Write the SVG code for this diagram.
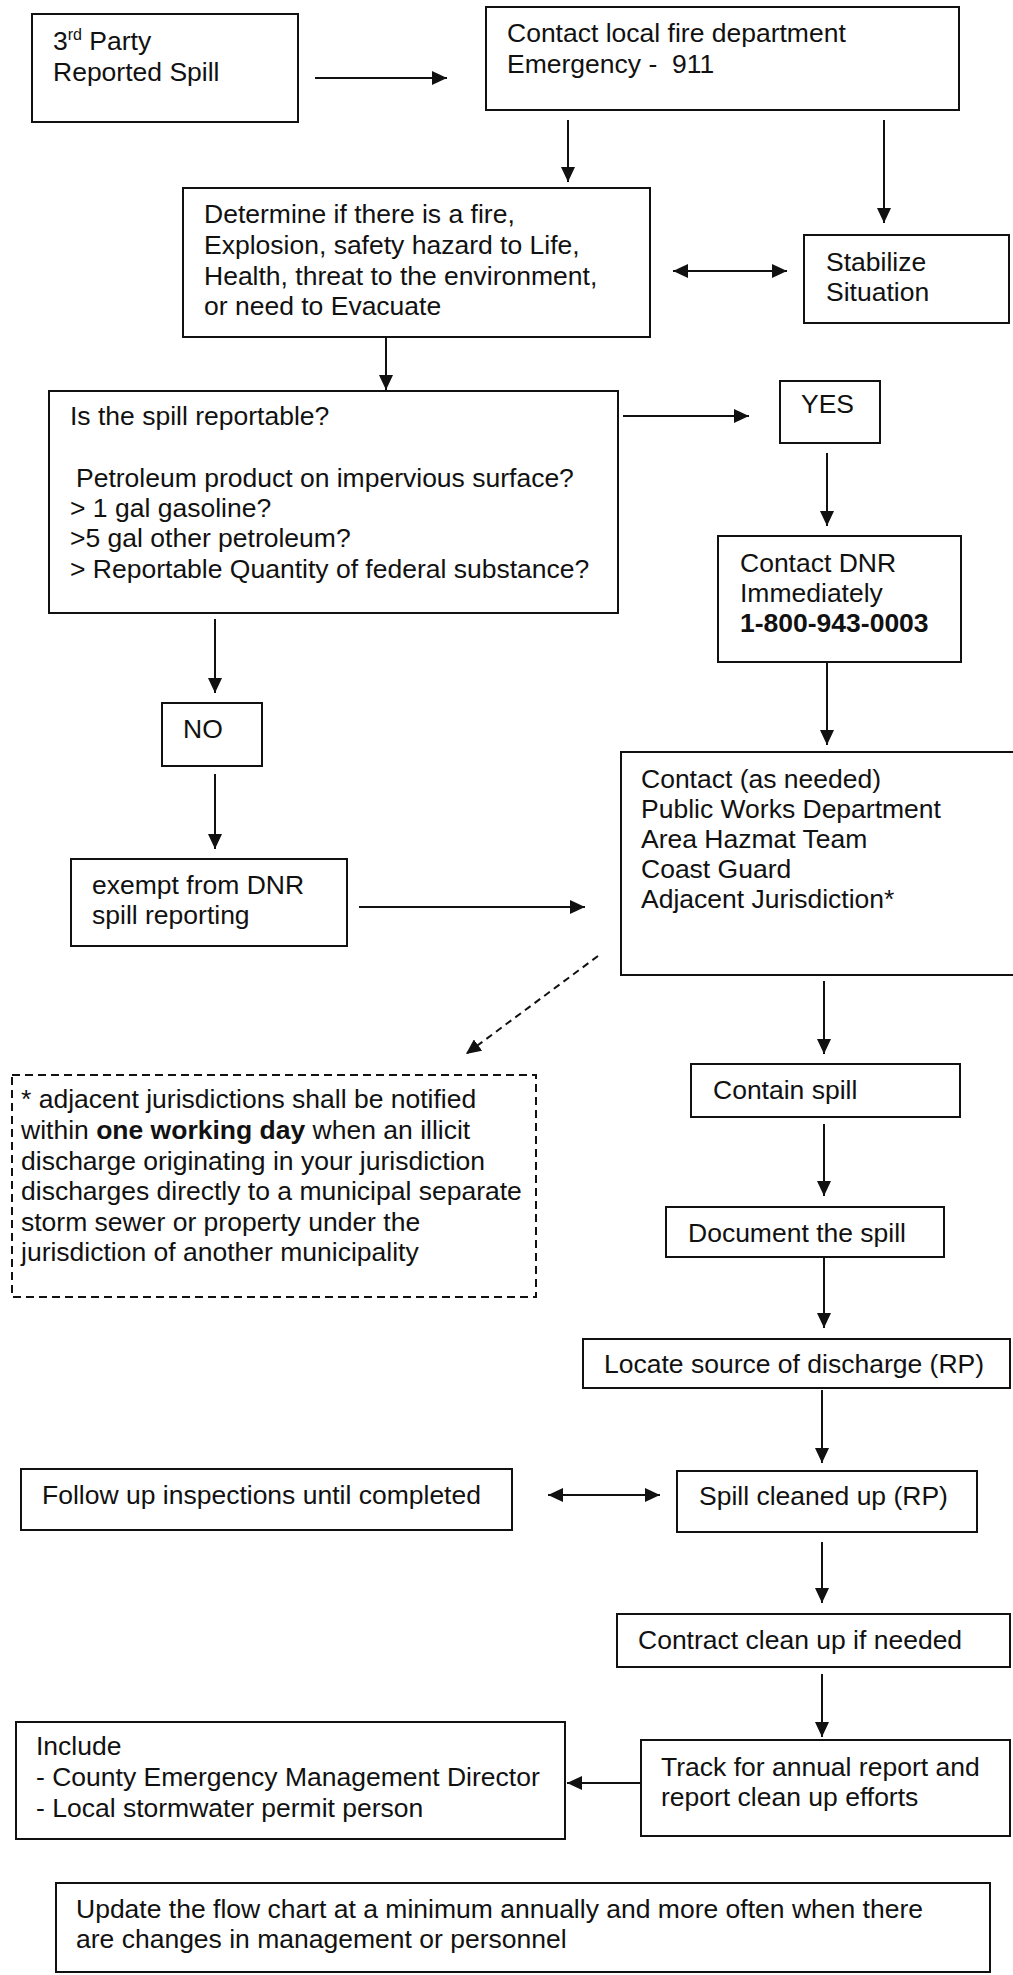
<svg xmlns="http://www.w3.org/2000/svg" width="1013" height="1975" viewBox="0 0 1013 1975">
<style>
.box{fill:#fff;stroke:#111;stroke-width:2}
.dash{fill:#fff;stroke:#111;stroke-width:2;stroke-dasharray:8,5}
text{font-family:"Liberation Sans",Arial,sans-serif;font-size:26.5px;fill:#111;white-space:pre}
.b{font-weight:bold}
.c{stroke:#111;stroke-width:2;fill:none}
.cd{stroke:#111;stroke-width:2;fill:none;stroke-dasharray:7,5}
</style>
<defs>
<marker id="ah" markerUnits="userSpaceOnUse" markerWidth="16" markerHeight="14" refX="15" refY="7" orient="auto-start-reverse">
<path d="M0,0 L15,7 L0,14 z" fill="#111"/>
</marker>
</defs>
<rect width="1013" height="1975" fill="#fff"/>
<g id="n-third-party">
<rect class="box" x="32" y="14" width="266" height="108"/>
<text x="53" y="50">3<tspan font-size="16" dy="-10">rd</tspan><tspan dy="10"> Party</tspan></text>
<text x="53" y="81">Reported Spill</text>
</g>
<g id="n-fire">
<rect class="box" x="486" y="7" width="473" height="103"/>
<text x="507" y="42">Contact local fire department</text>
<text x="507" y="73">Emergency -  911</text>
</g>
<g id="n-determine">
<rect class="box" x="183" y="188" width="467" height="149"/>
<text x="204" y="223">Determine if there is a fire,</text>
<text x="204" y="254">Explosion, safety hazard to Life,</text>
<text x="204" y="285">Health, threat to the environment,</text>
<text x="204" y="315">or need to Evacuate</text>
</g>
<g id="n-stabilize">
<rect class="box" x="804" y="235" width="205" height="88"/>
<text x="826" y="271">Stabilize</text>
<text x="826" y="301">Situation</text>
</g>
<g id="n-reportable">
<rect class="box" x="49" y="391" width="569" height="222"/>
<text x="70" y="425">Is the spill reportable?</text>
<text x="76" y="487">Petroleum product on impervious surface?</text>
<text x="70" y="517">&gt; 1 gal gasoline?</text>
<text x="70" y="547">&gt;5 gal other petroleum?</text>
<text x="70" y="578">&gt; Reportable Quantity of federal substance?</text>
</g>
<g id="n-yes">
<rect class="box" x="780" y="381" width="100" height="62"/>
<text x="801" y="413">YES</text>
</g>
<g id="n-dnr">
<rect class="box" x="718" y="536" width="243" height="126"/>
<text x="740" y="572">Contact DNR</text>
<text x="740" y="602">Immediately</text>
<text class="b" x="740" y="632">1-800-943-0003</text>
</g>
<g id="n-no">
<rect class="box" x="162" y="703" width="100" height="63"/>
<text x="183" y="738">NO</text>
</g>
<g id="n-exempt">
<rect class="box" x="71" y="859" width="276" height="87"/>
<text x="92" y="894">exempt from DNR</text>
<text x="92" y="924">spill reporting</text>
</g>
<g id="n-contact">
<rect class="box" x="621" y="752" width="400" height="223"/>
<text x="641" y="788">Contact (as needed)</text>
<text x="641" y="818">Public Works Department</text>
<text x="641" y="848">Area Hazmat Team</text>
<text x="641" y="878">Coast Guard</text>
<text x="641" y="908">Adjacent Jurisdiction*</text>
</g>
<g id="n-note">
<rect class="dash" x="12" y="1075" width="524" height="222"/>
<text x="21" y="1108">* adjacent jurisdictions shall be notified</text>
<text x="21" y="1139">within <tspan class="b">one working day</tspan> when an illicit</text>
<text x="21" y="1170">discharge originating in your jurisdiction</text>
<text x="21" y="1200">discharges directly to a municipal separate</text>
<text x="21" y="1231">storm sewer or property under the</text>
<text x="21" y="1261">jurisdiction of another municipality</text>
</g>
<g id="n-contain">
<rect class="box" x="691" y="1064" width="269" height="53"/>
<text x="713" y="1099">Contain spill</text>
</g>
<g id="n-document">
<rect class="box" x="666" y="1207" width="278" height="50"/>
<text x="688" y="1242">Document the spill</text>
</g>
<g id="n-locate">
<rect class="box" x="583" y="1339" width="427" height="49"/>
<text x="604" y="1373">Locate source of discharge (RP)</text>
</g>
<g id="n-follow">
<rect class="box" x="21" y="1469" width="491" height="61"/>
<text x="42" y="1504">Follow up inspections until completed</text>
</g>
<g id="n-cleaned">
<rect class="box" x="677" y="1471" width="300" height="61"/>
<text x="699" y="1505">Spill cleaned up (RP)</text>
</g>
<g id="n-contract">
<rect class="box" x="617" y="1614" width="393" height="53"/>
<text x="638" y="1649">Contract clean up if needed</text>
</g>
<g id="n-track">
<rect class="box" x="641" y="1740" width="369" height="96"/>
<text x="661" y="1776">Track for annual report and</text>
<text x="661" y="1806">report clean up efforts</text>
</g>
<g id="n-include">
<rect class="box" x="16" y="1722" width="549" height="117"/>
<text x="36" y="1755">Include</text>
<text x="36" y="1786">- County Emergency Management Director</text>
<text x="36" y="1817">- Local stormwater permit person</text>
</g>
<g id="n-update">
<rect class="box" x="56" y="1883" width="934" height="89"/>
<text x="76" y="1918">Update the flow chart at a minimum annually and more often when there</text>
<text x="76" y="1948">are changes in management or personnel</text>
</g>
<g id="connectors">
<line class="c" x1="315" y1="78" x2="447" y2="78" marker-end="url(#ah)"/>
<line class="c" x1="568" y1="120" x2="568" y2="182" marker-end="url(#ah)"/>
<line class="c" x1="884" y1="120" x2="884" y2="223" marker-end="url(#ah)"/>
<line class="c" x1="673" y1="271" x2="787" y2="271" marker-start="url(#ah)" marker-end="url(#ah)"/>
<line class="c" x1="386" y1="337" x2="386" y2="390" marker-end="url(#ah)"/>
<line class="c" x1="623" y1="416" x2="749" y2="416" marker-end="url(#ah)"/>
<line class="c" x1="827" y1="453" x2="827" y2="526" marker-end="url(#ah)"/>
<line class="c" x1="827" y1="662" x2="827" y2="745" marker-end="url(#ah)"/>
<line class="c" x1="215" y1="619" x2="215" y2="693" marker-end="url(#ah)"/>
<line class="c" x1="215" y1="774" x2="215" y2="849" marker-end="url(#ah)"/>
<line class="c" x1="359" y1="907" x2="585" y2="907" marker-end="url(#ah)"/>
<line class="cd" x1="598" y1="956" x2="466" y2="1054" marker-end="url(#ah)"/>
<line class="c" x1="824" y1="981" x2="824" y2="1054" marker-end="url(#ah)"/>
<line class="c" x1="824" y1="1124" x2="824" y2="1196" marker-end="url(#ah)"/>
<line class="c" x1="824" y1="1258" x2="824" y2="1328" marker-end="url(#ah)"/>
<line class="c" x1="822" y1="1390" x2="822" y2="1463" marker-end="url(#ah)"/>
<line class="c" x1="548" y1="1495" x2="660" y2="1495" marker-start="url(#ah)" marker-end="url(#ah)"/>
<line class="c" x1="822" y1="1542" x2="822" y2="1603" marker-end="url(#ah)"/>
<line class="c" x1="822" y1="1674" x2="822" y2="1737" marker-end="url(#ah)"/>
<line class="c" x1="640" y1="1783" x2="567" y2="1783" marker-end="url(#ah)"/>
</g>
</svg>
